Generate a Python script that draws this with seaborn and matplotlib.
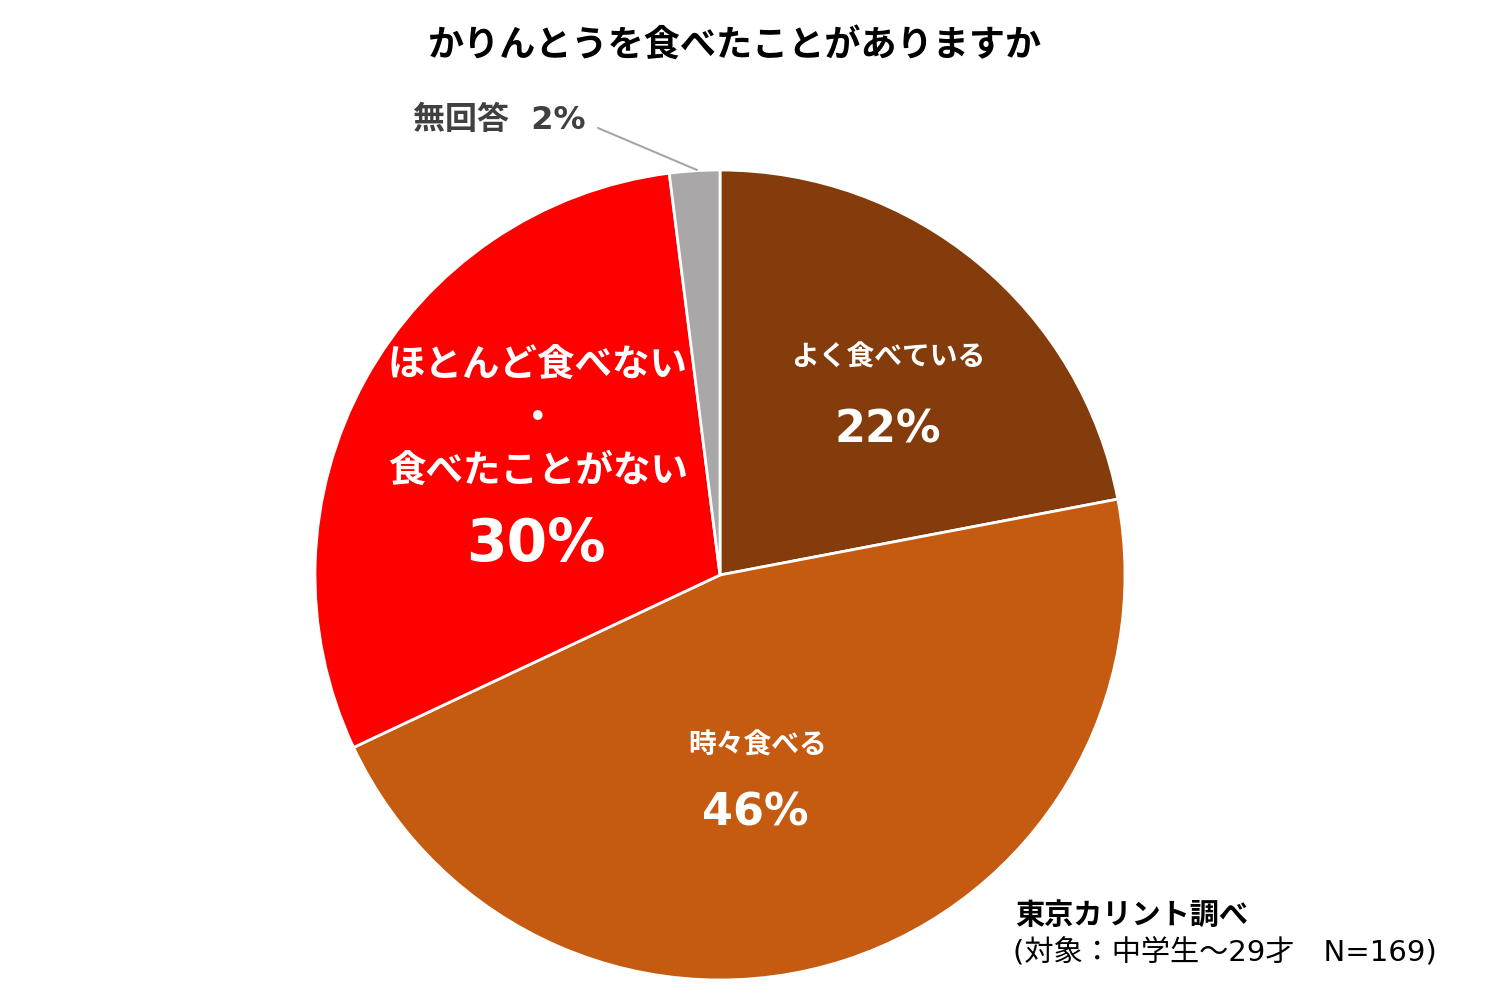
import matplotlib
matplotlib.use("Agg")
import matplotlib.pyplot as plt
import seaborn as sns

# 回答データ（上から時計回り）
labels = ["よく食べている", "時々食べる", "ほとんど食べない・食べたことがない", "無回答"]
values = [22, 46, 30, 2]
colors = ["#843C0C", "#C55A11", "#FF0000", "#A9A7A7"]

sns.set_theme(style="white")
plt.rcParams['font.family'] = ['Noto Sans CJK JP', 'DejaVu Sans']
num_font = ['DejaVu Sans', 'Noto Sans CJK JP']

fig = plt.figure(figsize=(15, 10), dpi=100)
ax = fig.add_axes([0, 0, 1, 1])

# 画像座標(y下向き)からの変換
def Y(y):
    return 1000 - y

ax.pie(values, colors=colors, startangle=90, counterclock=False,
       center=(720, Y(575)), radius=405, frame=True,
       wedgeprops=dict(edgecolor="white", linewidth=2))
ax.set_xlim(0, 1500)
ax.set_ylim(0, 1000)
ax.set_aspect("equal")
ax.axis("off")

ax.text(735, Y(45), "かりんとうを食べたことがありますか", ha="center", va="center",
        fontsize=26, fontweight="bold", color="black")

# ラベル
ax.text(888, Y(358), "よく食べている", ha="center", va="center",
        fontsize=20, fontweight="bold", color="white")
ax.text(888, Y(430), "22%", ha="center", va="center", family=num_font,
        fontsize=32, fontweight="bold", color="white")

ax.text(758, Y(745), "時々食べる", ha="center", va="center",
        fontsize=20, fontweight="bold", color="white")
ax.text(755, Y(813), "46%", ha="center", va="center", family=num_font,
        fontsize=32, fontweight="bold", color="white")

ax.text(538, Y(365), "ほとんど食べない", ha="center", va="center",
        fontsize=27, fontweight="bold", color="white")
ax.text(538, Y(418), "・", ha="center", va="center",
        fontsize=27, fontweight="bold", color="white")
ax.text(538, Y(470), "食べたことがない", ha="center", va="center",
        fontsize=27, fontweight="bold", color="white")
ax.text(536, Y(545), "30%", ha="center", va="center", family=num_font,
        fontsize=42, fontweight="bold", color="white")

ax.text(413, Y(120), "無回答  2%", ha="left", va="center", family=num_font,
        fontsize=23, fontweight="bold", color="#404040")
ax.plot([598, 697], [Y(128), Y(170)], color="#A6A6A6", linewidth=1.5)

# 出典
ax.text(1015, Y(915), "東京カリント調べ", ha="left", va="center",
        fontsize=21, fontweight="bold", color="black")
ax.text(1013, Y(953), "(対象：中学生〜29才　N=169)", ha="left", va="center",
        family=num_font, fontsize=21, color="black")

fig.savefig("out.png", dpi=100, facecolor="white")
